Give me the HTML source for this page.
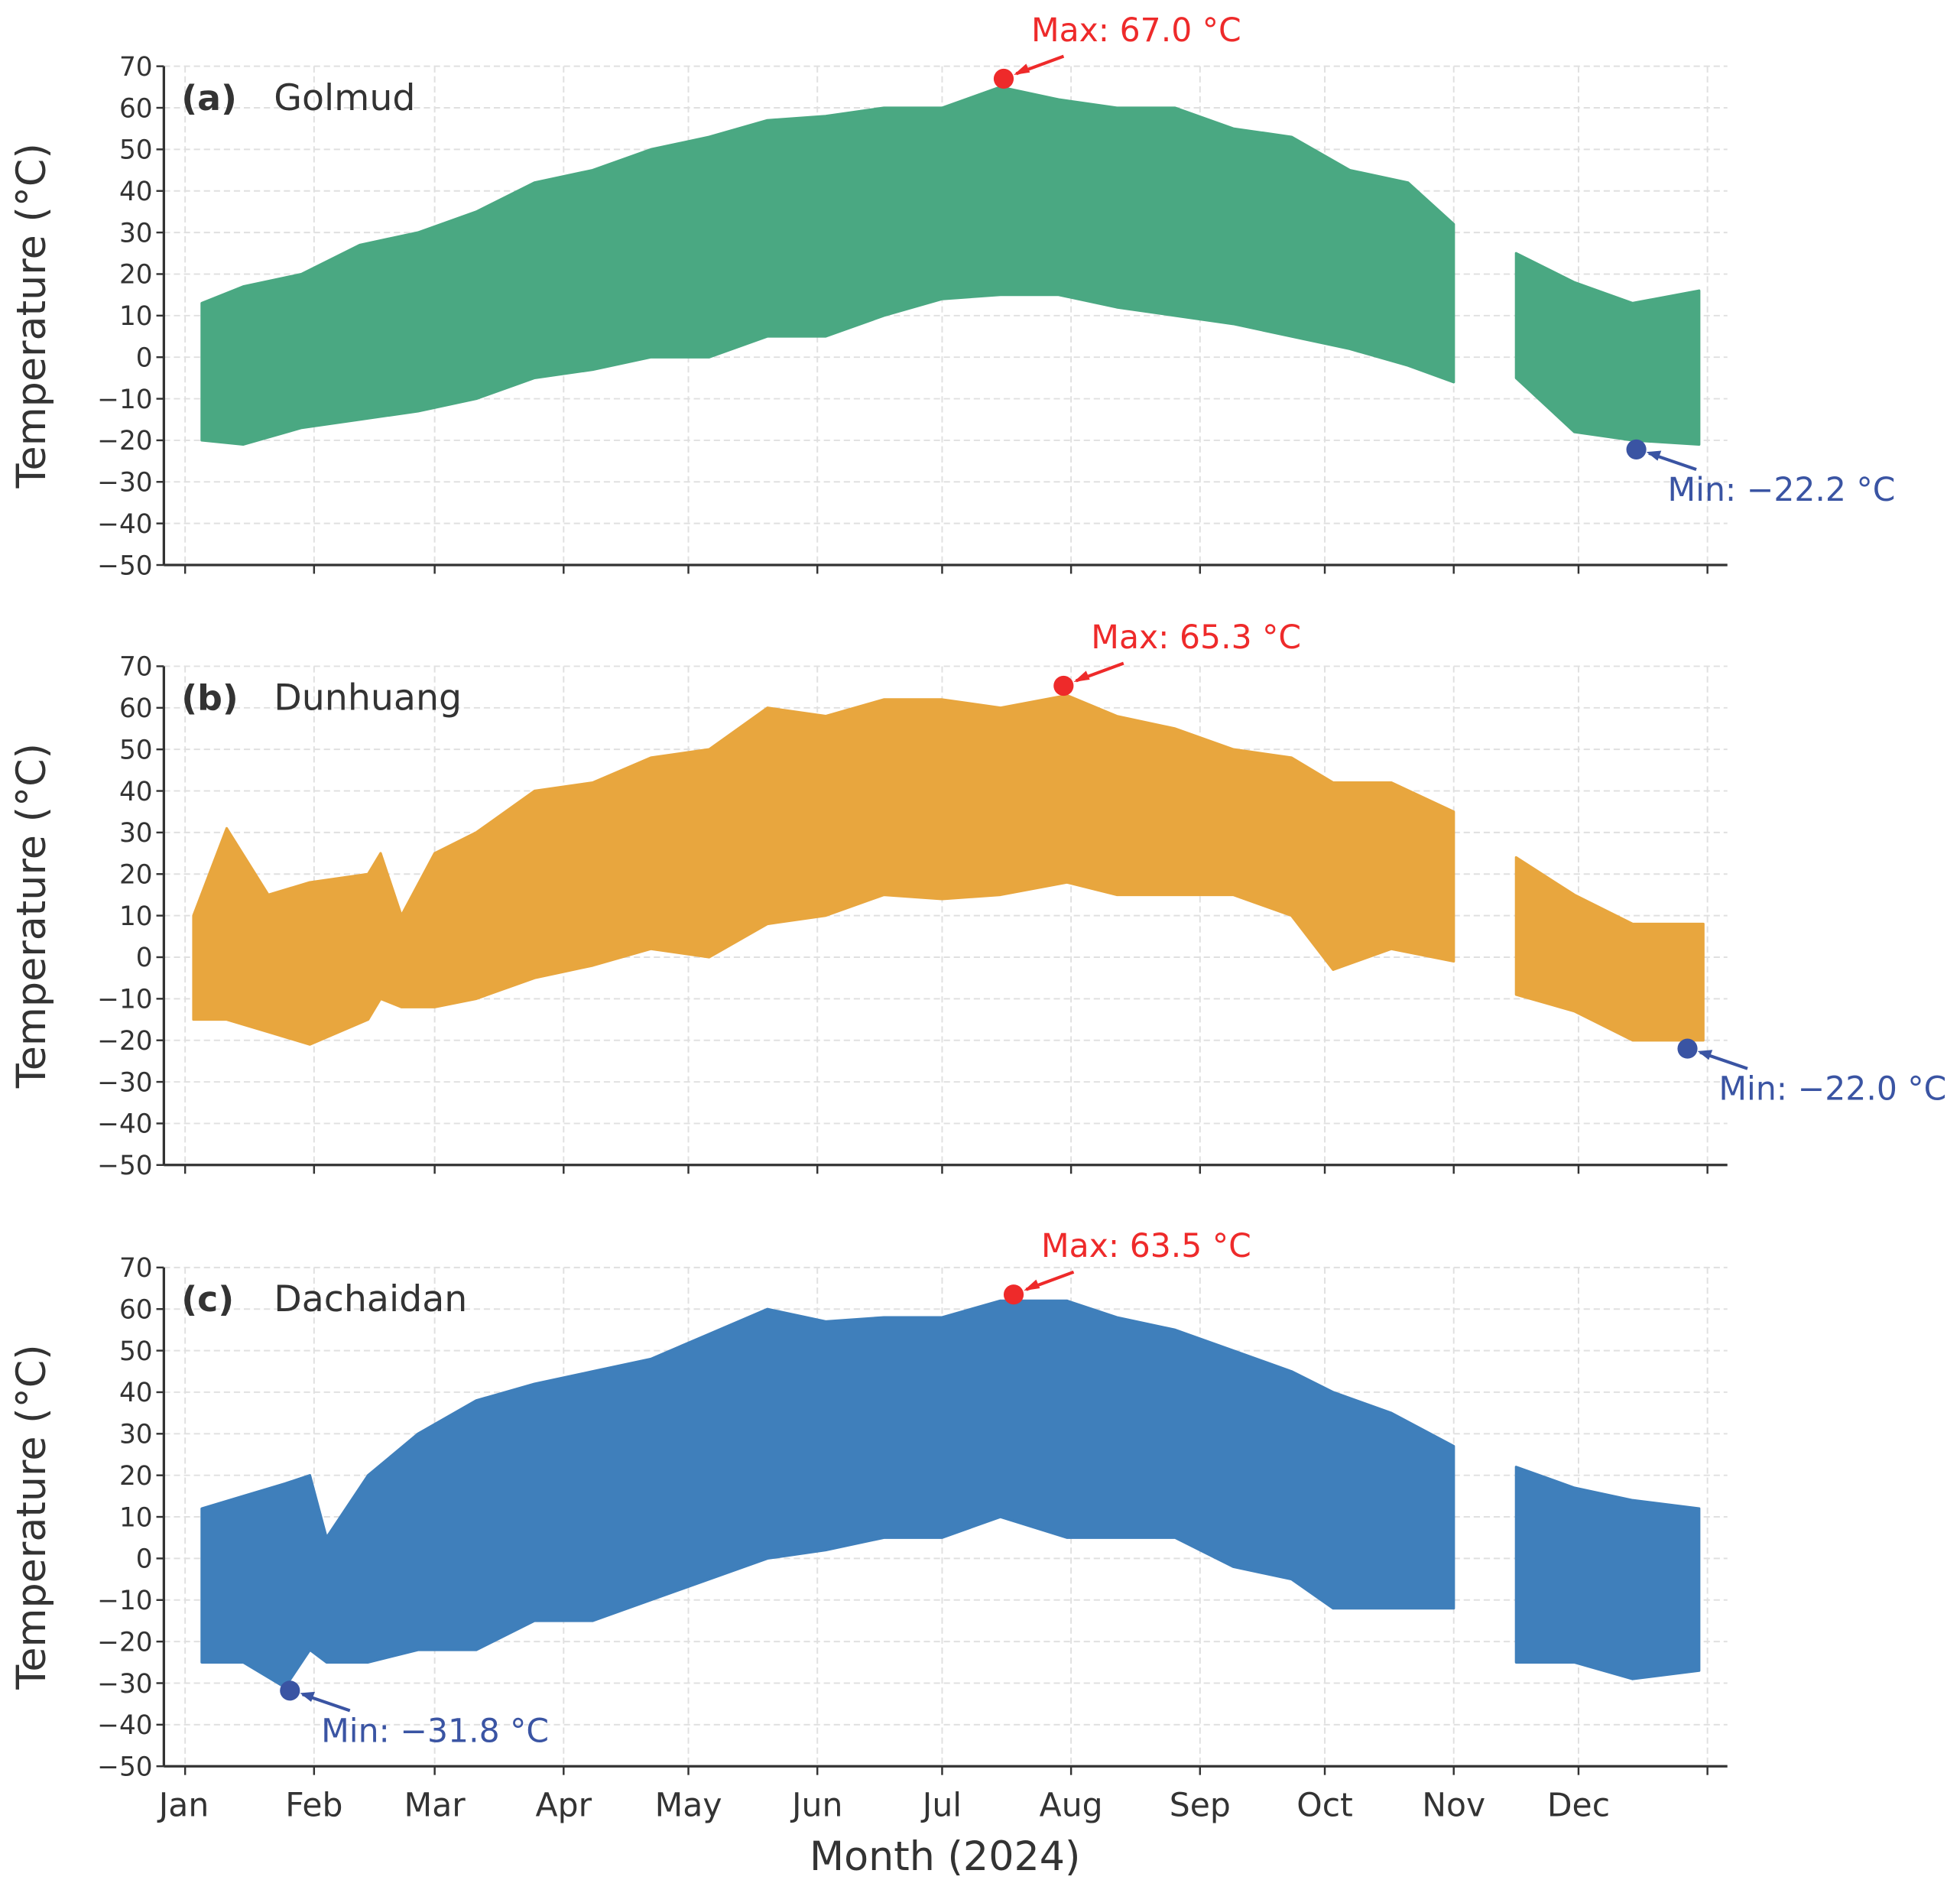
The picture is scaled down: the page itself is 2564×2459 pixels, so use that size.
<!DOCTYPE html>
<html><head><meta charset="utf-8"><style>
html,body{margin:0;padding:0;background:#fff}
svg{display:block;font-family:"DejaVu Sans","Liberation Sans",sans-serif}
</style></head><body>
<svg id="chart" width="2564" height="2459" viewBox="0 0 1568 1504" xmlns="http://www.w3.org/2000/svg"></svg>
<script>
const months = ["Jan","Feb","Mar","Apr","May","Jun","Jul","Aug","Sep","Oct","Nov","Dec"];
const monthStartDays = [0,31,60,91,121,152,182,213,244,274,305,335,366];
const yTicks = [70,60,50,40,30,20,10,0,-10,-20,-30,-40,-50];
const stationNames = ["Golmud","Dunhuang","Dachaidan"];
const panelLetters = ["(a)","(b)","(c)"];
const colors = ["#4aa882","#e8a63e","#3f7fbb"];
const golmudDays = [4,14,28,42,56,70,84,98,112,126,140,154,168,182,196,210,224,238,252,266,280,294,305,null,320,334,348,364];
const golmudMax  = [13,17,20,27,30,35,42,45,50,53,57,58,60,60,65,62,60,60,55,53,45,42,32,null,25,18,13,16];
const golmudMin  = [-20,-21,-17,-15,-13,-10,-5,-3,0,0,5,5,10,14,15,15,12,10,8,5,2,-2,-6,null,-5,-18,-20,-21];
const dunhuangDays = [2,10,20,30,44,47,52,60,70,84,98,112,126,140,154,168,182,196,212,224,238,252,266,276,290,305,null,320,334,348,365];
const dunhuangMax  = [10,31,15,18,20,25,10,25,30,40,42,48,50,60,58,62,62,60,63,58,55,50,48,42,42,35,null,24,15,8,8];
const dunhuangMin  = [-15,-15,-18,-21,-15,-10,-12,-12,-10,-5,-2,2,0,8,10,15,14,15,18,15,15,15,10,-3,2,-1,null,-9,-13,-20,-20];
const dachaidanDays = [4,14,24,30,34,44,56,70,84,98,112,126,140,154,168,182,196,212,224,238,252,266,276,290,305,null,320,334,348,364];
const dachaidanMax  = [12,15,18,20,5,20,30,38,42,45,48,54,60,57,58,58,62,62,58,55,50,45,40,35,27,null,22,17,14,12];
const dachaidanMin  = [-25,-25,-31,-22,-25,-25,-22,-22,-15,-15,-10,-5,0,2,5,5,10,5,5,5,-2,-5,-12,-12,-12,null,-25,-25,-29,-27];
const extremes = [
  {maxDay:196.8,maxVal:67.0,minDay:348.9,minVal:-22.2},
  {maxDay:211.2,maxVal:65.3,minDay:361.2,minVal:-22.0},
  {maxDay:199.2,maxVal:63.5,minDay:25.2,minVal:-31.8}
];
const allDays=[golmudDays,dunhuangDays,dachaidanDays];
const allMax=[golmudMax,dunhuangMax,dachaidanMax];
const allMin=[golmudMin,dunhuangMin,dachaidanMin];

const svg=document.getElementById('chart');
const NS='http://www.w3.org/2000/svg';
function mk(tag,attrs,parent){const e=document.createElementNS(NS,tag);for(const k in attrs)e.setAttribute(k,attrs[k]);(parent||svg).appendChild(e);return e;}
const L=131,R=1382,x0=148,pxDay=3.328;
const panelTops=[53,533,1014],H=399;
const xs=d=>x0+d*pxDay;
const fmt=v=>(v<0?'\u2212'+Math.abs(v):''+v);

panelTops.forEach((top,p)=>{
  const ys=v=>top+(70-v)*H/120;
  const g=mk('g',{});
  
  
  yTicks.forEach(v=>{const l=mk('line',{x1:L,x2:R,y1:ys(v),y2:ys(v),stroke:'#e0e0e0','stroke-width':1.2,'stroke-dasharray':'5,3'},g);
    });
  monthStartDays.forEach(d=>{const l=mk('line',{x1:xs(d),x2:xs(d),y1:top,y2:top+H,stroke:'#e0e0e0','stroke-width':1.2,'stroke-dasharray':'5,3'},g);
    });
  const D=allDays[p],MX=allMax[p],MN=allMin[p];
  let segs=[[]];
  D.forEach((d,i)=>{if(d===null){segs.push([]);}else segs[segs.length-1].push(i);});
  segs.forEach(s=>{
    let pts=s.map(i=>xs(D[i])+','+ys(MX[i]));
    pts=pts.concat(s.slice().reverse().map(i=>xs(D[i])+','+ys(MN[i])));
    const poly=mk('polygon',{points:pts.join(' '),fill:colors[p],stroke:colors[p],'stroke-width':2,'stroke-linejoin':'round'},g);
    
    
  });
  const ay=mk('line',{x1:L,x2:L,y1:top,y2:top+H,stroke:'#333','stroke-width':2},g);
  
  const ax=mk('line',{x1:L,x2:R,y1:top+H,y2:top+H,stroke:'#333','stroke-width':2},g);
  
  yTicks.forEach(v=>{
    mk('line',{x1:L-6,x2:L,y1:ys(v),y2:ys(v),stroke:'#333','stroke-width':1.5},g);
    const t=mk('text',{x:L-9,y:ys(v)+7.5,'text-anchor':'end','font-size':21,fill:'#333'},g);
    t.textContent=fmt(v);
  });
  monthStartDays.forEach((d,i)=>{
    mk('line',{x1:xs(d),x2:xs(d),y1:top+H,y2:top+H+7,stroke:'#333','stroke-width':1.5},g);
    if(p===2&&i<12){const t=mk('text',{x:xs(d)+(i===0?-1:0),y:top+H+40,'text-anchor':'middle','font-size':26,fill:'#333'},g);
      t.textContent=months[i];}
  });
  const yl=mk('text',{x:0,y:0,transform:`translate(36,${top+H/2}) rotate(-90)`,'text-anchor':'middle','font-size':32,fill:'#333'},g);
  yl.textContent='Temperature (\u00b0C)';
  const lt=mk('text',{x:145,y:top+35,'font-size':28,'font-weight':'bold',fill:'#333'},g);
  lt.textContent=panelLetters[p];
  const nt=mk('text',{x:219,y:top+35,'font-size':29,fill:'#333'},g);
  nt.textContent=stationNames[p];
  const e=extremes[p];
  const mxX=xs(e.maxDay),mxY=ys(e.maxVal);
  mk('line',{x1:mxX+48,x2:mxX+10,y1:mxY-18,y2:mxY-4,stroke:'#ee2a2a','stroke-width':2.5},g);
  mk('path',{d:`M${mxX+8},${mxY-3} l10,-9 l3,7 z`,fill:'#ee2a2a'},g);
  const mc=mk('circle',{cx:mxX,cy:mxY,r:8,fill:'#ee2a2a'},g);
  
  const mt=mk('text',{x:mxX+22,y:mxY-30,'font-size':26,fill:'#ee2a2a'},g);
  mt.textContent='Max: '+e.maxVal.toFixed(1)+' \u00b0C';
  const mnX=xs(e.minDay),mnY=ys(e.minVal);
  mk('line',{x1:mnX+48,x2:mnX+10,y1:mnY+16,y2:mnY+3,stroke:'#3a54a3','stroke-width':2.5},g);
  mk('path',{d:`M${mnX+8},${mnY+2} l12,-1 l-3,8 z`,fill:'#3a54a3'},g);
  const nc=mk('circle',{cx:mnX,cy:mnY,r:8,fill:'#3a54a3'},g);
  
  const nt2=mk('text',{x:mnX+25,y:mnY+41,'font-size':26,fill:'#3a54a3'},g);
  nt2.textContent='Min: \u2212'+Math.abs(e.minVal).toFixed(1)+' \u00b0C';
});
const xt=mk('text',{x:756,y:1496,'text-anchor':'middle','font-size':32,fill:'#333'});
xt.textContent='Month (2024)';


</script>
</body></html>
